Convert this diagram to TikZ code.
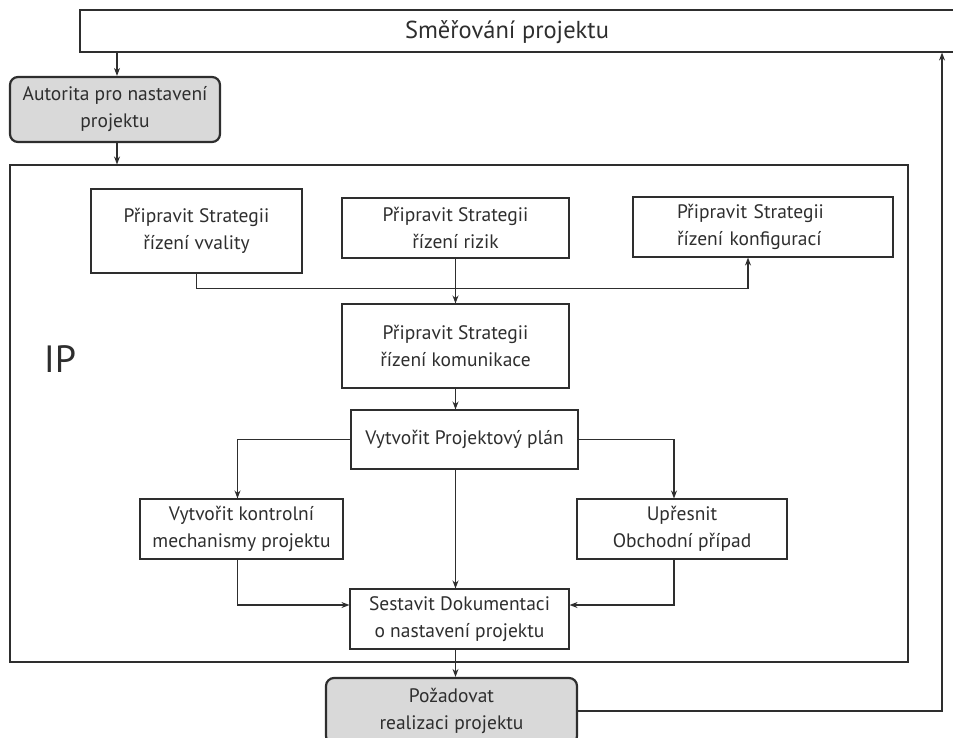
\documentclass[tikz,border=0pt]{standalone}
\usepackage{fontspec}
\setmainfont{PT Sans}
\usetikzlibrary{arrows.meta}
\definecolor{ink}{HTML}{2E2E2E}
\definecolor{shade}{HTML}{D9D9D9}
\begin{document}
\begin{tikzpicture}[x=1pt,y=-1pt,
  every node/.style={text=ink},
  box/.style={draw=ink, line width=1.1pt, align=center, inner sep=0pt,
    font=\fontsize{19.5}{27}\selectfont},
  keybox/.style={box, fill=shade, rounded corners=8pt, line width=2.2pt},
  arr/.style={draw=ink, line width=1.1pt, -{Stealth[length=8pt,width=6pt]}}]
\useasboundingbox (0,0) rectangle (953,737);

% outer direction band, open to the right
\node[draw=ink, line width=1.1pt, minimum width=885, minimum height=42, inner sep=0pt]
  (top) at (522.5,31) {};
\node[font=\fontsize{24.5}{27}\selectfont] (title) at (507,32) {Směřování projektu};

\node[keybox, minimum width=210, minimum height=65] (auth) at (115,109.5)
  {Autorita pro nastavení\\projektu};

% initiation frame
\node[draw=ink, line width=1.1pt, minimum width=898, minimum height=497, inner sep=0pt]
  (ip) at (459,413.5) {};
\node[font=\fontsize{38}{40}\selectfont] (iplabel) at (60,359) {IP};

\node[box, minimum width=211, minimum height=84] (q) at (196.5,231)
  {Připravit Strategii\\řízení vvality};
\node[box, minimum width=227, minimum height=60] (r) at (455.5,228)
  {Připravit Strategii\\řízení rizik};
\node[box, minimum width=260, minimum height=60, text width=172, align=left] (c) at (763,227)
  {Připravit Strategii\\řízení konfigurací};
\node[box, minimum width=227, minimum height=84] (comm) at (455.5,346)
  {Připravit Strategii\\řízení komunikace};
\node[box, minimum width=227, minimum height=59] (plan) at (464.5,439.5)
  {Vytvořit Projektový plán};
\node[box, minimum width=203, minimum height=60] (kont) at (241.5,529)
  {Vytvořit kontrolní\\mechanismy projektu};
\node[box, minimum width=210, minimum height=60] (upr) at (682,529)
  {Upřesnit\\Obchodní případ};
\node[box, minimum width=219, minimum height=60] (sest) at (459.5,619)
  {Sestavit Dokumentaci\\o nastavení projektu};
\node[keybox, minimum width=251, minimum height=66] (poz) at (451.5,711)
  {Požadovat\\realizaci projektu};

% connectors
\draw[arr] ([xshift=2]auth.north |- top.south) -- ([xshift=2]auth.north);
\draw[arr] ([xshift=2]auth.south) -- ([xshift=2]auth.south |- ip.north);
\draw[arr] (q.south) -- ++(0,15) -| ([xshift=-15]c.south);
\draw[arr] (r.south) -- (r.south |- comm.north);
\draw[arr] (comm.south) -- (comm.south |- plan.north);
\draw[arr] (plan.west) -| ([xshift=-4]kont.north);
\draw[arr] (plan.east) -| ([xshift=-8]upr.north);
\draw[arr] (comm.south |- plan.south) -- (comm.south |- sest.north);
\draw[arr] ([xshift=-4]kont.south) |- ([yshift=14]sest.west);
\draw[arr] ([xshift=-8]upr.south) |- ([yshift=14]sest.east);
\draw[arr] (comm.south |- sest.south) -- (comm.south |- poz.north);
\coordinate (ret) at (942,711);
\draw[arr] (poz.east) -- (ret) -- (ret |- top.south);
\end{tikzpicture}
\end{document}
